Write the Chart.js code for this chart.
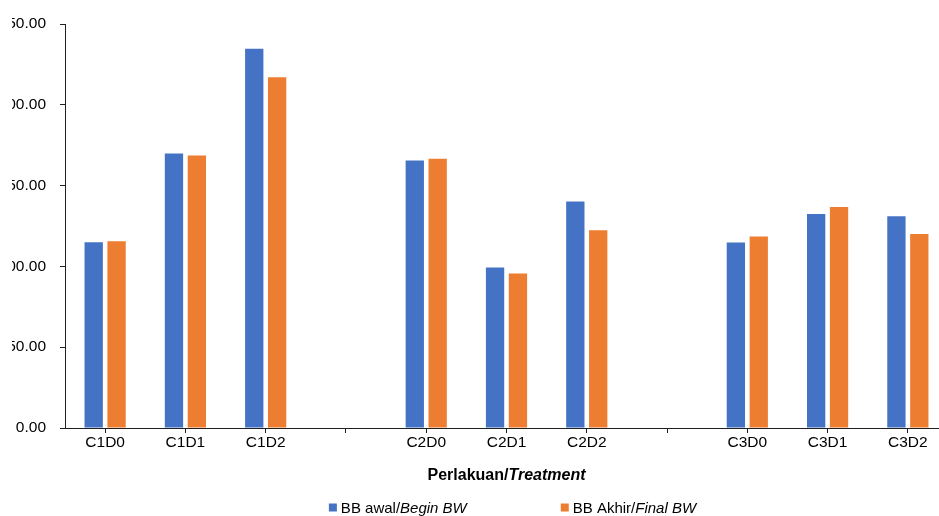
<!DOCTYPE html>
<html>
<head>
<meta charset="utf-8">
<script src="https://cdn.jsdelivr.net/npm/chart.js@4/dist/chart.umd.min.js"></script>
<style>
  body { margin: 0; background: #fff; }
  #wrap { position: absolute; left: 12px; top: 0; width: 927px; height: 516px; overflow: hidden; }
  #myChart { position: absolute; left: -32px; top: 0; }
</style>
</head>
<body>
<div id="wrap"><canvas id="myChart" width="968" height="516"></canvas></div>
<script>
// data
const categories = ['C1D0', 'C1D1', 'C1D2', '', 'C2D0', 'C2D1', 'C2D2', '', 'C3D0', 'C3D1', 'C3D2'];
const beginBW = [115.0, 169.9, 234.7, null, 165.6, 99.3, 140.2, null, 114.8, 132.5, 131.1];
const finalBW = [115.6, 168.7, 217.0, null, 166.6, 95.6, 122.4, null, 118.5, 136.7, 120.1];
const yMin = 0, yMax = 250, yStep = 50;

// text: [normal part, italic part]
const beginLabel = ['BB awal/', 'Begin BW'];
const finalLabel = ['BB Akhir/', 'Final BW'];
const axisTitle = ['Perlakuan/', 'Treatment'];

const blue = '#4472C4';
const orange = '#ED7D31';
const axisColor = '#1f1f1f';
const fontFam = '"Liberation Sans", Arial, sans-serif';

// draws the x axis title and the legend (both need mixed italic text)
const extras = {
  id: 'extras',
  afterDraw(chart) {
    const ctx = chart.ctx;
    const area = chart.chartArea;
    const cx = (area.left + area.right) / 2;
    ctx.save();
    ctx.fillStyle = '#000';
    ctx.textBaseline = 'alphabetic';

    // axis title
    ctx.font = 'bold 16px ' + fontFam;
    let w1 = ctx.measureText(axisTitle[0]).width;
    ctx.font = 'bold italic 16px ' + fontFam;
    let w2 = ctx.measureText(axisTitle[1]).width;
    let x = cx - (w1 + w2) / 2;
    ctx.textAlign = 'left';
    ctx.font = 'bold 16px ' + fontFam;
    ctx.fillText(axisTitle[0], x, 480);
    ctx.font = 'bold italic 16px ' + fontFam;
    ctx.fillText(axisTitle[1], x + w1, 480);

    // legend
    const items = [[beginLabel, blue], [finalLabel, orange]];
    const size = 15;
    const widths = items.map(it => {
      ctx.font = size + 'px ' + fontFam;
      let a = ctx.measureText(it[0][0]).width;
      ctx.font = 'italic ' + size + 'px ' + fontFam;
      let b = ctx.measureText(it[0][1]).width;
      return [a, b];
    });
    const box = 8, boxGap = 4, itemGap = 94;
    let total = 0;
    widths.forEach(w => { total += box + boxGap + w[0] + w[1]; });
    total += itemGap;
    x = cx - total / 2 + 6;
    items.forEach((it, i) => {
      ctx.fillStyle = it[1];
      ctx.fillRect(x, 503.5, box, box);
      x += box + boxGap;
      ctx.fillStyle = '#000';
      ctx.font = size + 'px ' + fontFam;
      ctx.fillText(it[0][0], x, 513);
      x += widths[i][0];
      ctx.font = 'italic ' + size + 'px ' + fontFam;
      ctx.fillText(it[0][1], x, 513);
      x += widths[i][1] + itemGap;
    });
    ctx.restore();
  }
};

const data = {
  labels: categories,
  datasets: [{
    label: beginLabel.join(''),
    data: beginBW,
    backgroundColor: blue,
    categoryPercentage: 0.57,
    barPercentage: 0.8
  }, {
    label: finalLabel.join(''),
    data: finalBW,
    backgroundColor: orange,
    categoryPercentage: 0.57,
    barPercentage: 0.8
  }]
};

const config = {
  type: 'bar',
  data,
  options: {
    responsive: false,
    animation: false,
    devicePixelRatio: 1,
    layout: { padding: { top: 24, left: 0, right: 0, bottom: 0 } },
    plugins: {
      legend: { display: false },
      tooltip: { enabled: false }
    },
    scales: {
      x: {
        afterFit: s => { s.height = 88; },
        grid: { offset: false, drawOnChartArea: false, tickLength: 5, color: axisColor },
        border: { color: axisColor, width: 1 },
        ticks: { color: '#000', padding: 0, font: { family: fontFam, size: 15.5 }, maxRotation: 0, autoSkip: false }
      },
      y: {
        min: yMin,
        max: yMax,
        afterFit: s => { s.width = 85; },
        grid: { drawOnChartArea: false, tickLength: 5, color: axisColor },
        border: { color: axisColor, width: 1 },
        ticks: {
          stepSize: yStep,
          color: '#000',
          padding: 14,
          font: { family: fontFam, size: 15.5 },
          callback: v => v.toFixed(2)
        }
      }
    }
  },
  plugins: [extras]
};

const myChart = new Chart(document.getElementById('myChart'), config);
</script>
</body>
</html>
